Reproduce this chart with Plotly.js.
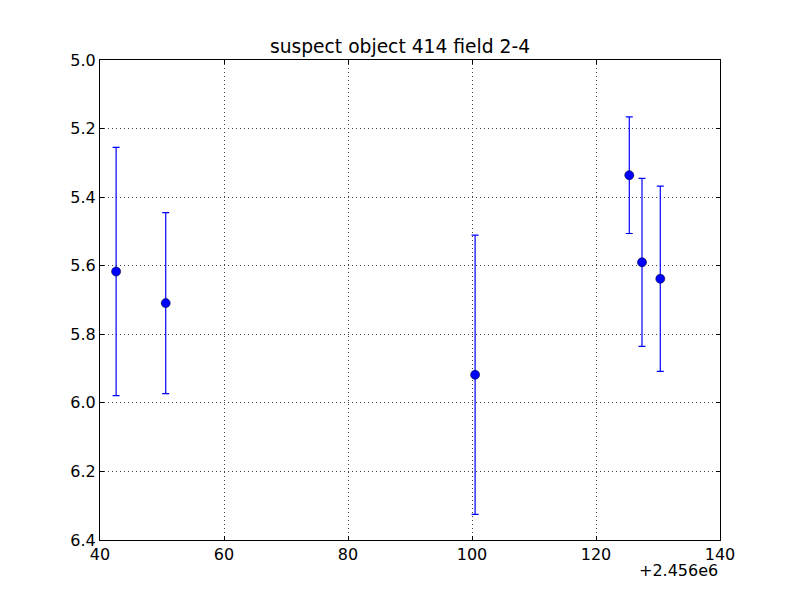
<!DOCTYPE html>
<html>
<head>
<meta charset="utf-8">
<script src="https://cdn.plot.ly/plotly-3.0.1.min.js"></script>
<style>html,body{margin:0;padding:0;background:#fff;}#chart{width:800px;height:600px;}</style>
</head>
<body>
<div id="chart"></div>
<script>
const xOffset = 2456000;
const timeOffsets = [42.6, 50.6, 100.5, 125.37, 127.42, 130.37];
const magnitudes = [5.617, 5.709, 5.918, 5.336, 5.590, 5.638];
const magErrors = [0.362, 0.264, 0.407, 0.170, 0.245, 0.270];
const xTicks = [40, 60, 80, 100, 120, 140];
const yTicks = [5.0, 5.2, 5.4, 5.6, 5.8, 6.0, 6.2, 6.4];
const chartTitle = 'suspect object 414 field 2-4';

const fontFam = 'DejaVu Sans, sans-serif';
const trace = {
  x: timeOffsets,
  y: magnitudes,
  mode: 'markers',
  type: 'scatter',
  marker: {color: '#0000ff', size: 9, line: {color: '#000033', width: 0.6}},
  error_y: {type: 'data', array: magErrors, visible: true, color: '#0000ff', thickness: 1.2, width: 3.5},
  showlegend: false,
  cliponaxis: false
};
const axisCommon = {
  showline: true, linecolor: '#000', linewidth: 1, mirror: 'ticks',
  ticks: 'inside', ticklen: 4, tickcolor: '#000', tickwidth: 1,
  showgrid: true, gridcolor: '#444', griddash: '1px,3px', gridwidth: 1,
  zeroline: false,
  tickfont: {family: fontFam, size: 16, color: '#000'}
};
const layout = {
  width: 800, height: 600,
  paper_bgcolor: '#fff', plot_bgcolor: '#fff',
  margin: {l: 100, r: 80, t: 60, b: 60},
  title: {text: chartTitle, font: {family: fontFam, size: 18.7, color: '#000'}, x: 0.5, xanchor: 'center', y: 0.922, yanchor: 'middle'},
  xaxis: Object.assign({}, axisCommon, {range: [40, 140], tickvals: xTicks, ticktext: xTicks.map(String)}),
  yaxis: Object.assign({}, axisCommon, {range: [6.4, 5.0], tickvals: yTicks, ticktext: yTicks.map(v => v.toFixed(1))}),
  annotations: [{
    text: '+' + (xOffset / 1e6).toFixed(3) + 'e6', xref: 'paper', yref: 'paper', x: 1, y: 0,
    xanchor: 'right', yanchor: 'top', yshift: -19, showarrow: false,
    font: {family: fontFam, size: 16, color: '#000'}
  }]
};
Plotly.newPlot('chart', [trace], layout, {displayModeBar: false, staticPlot: true});
</script>
</body>
</html>
